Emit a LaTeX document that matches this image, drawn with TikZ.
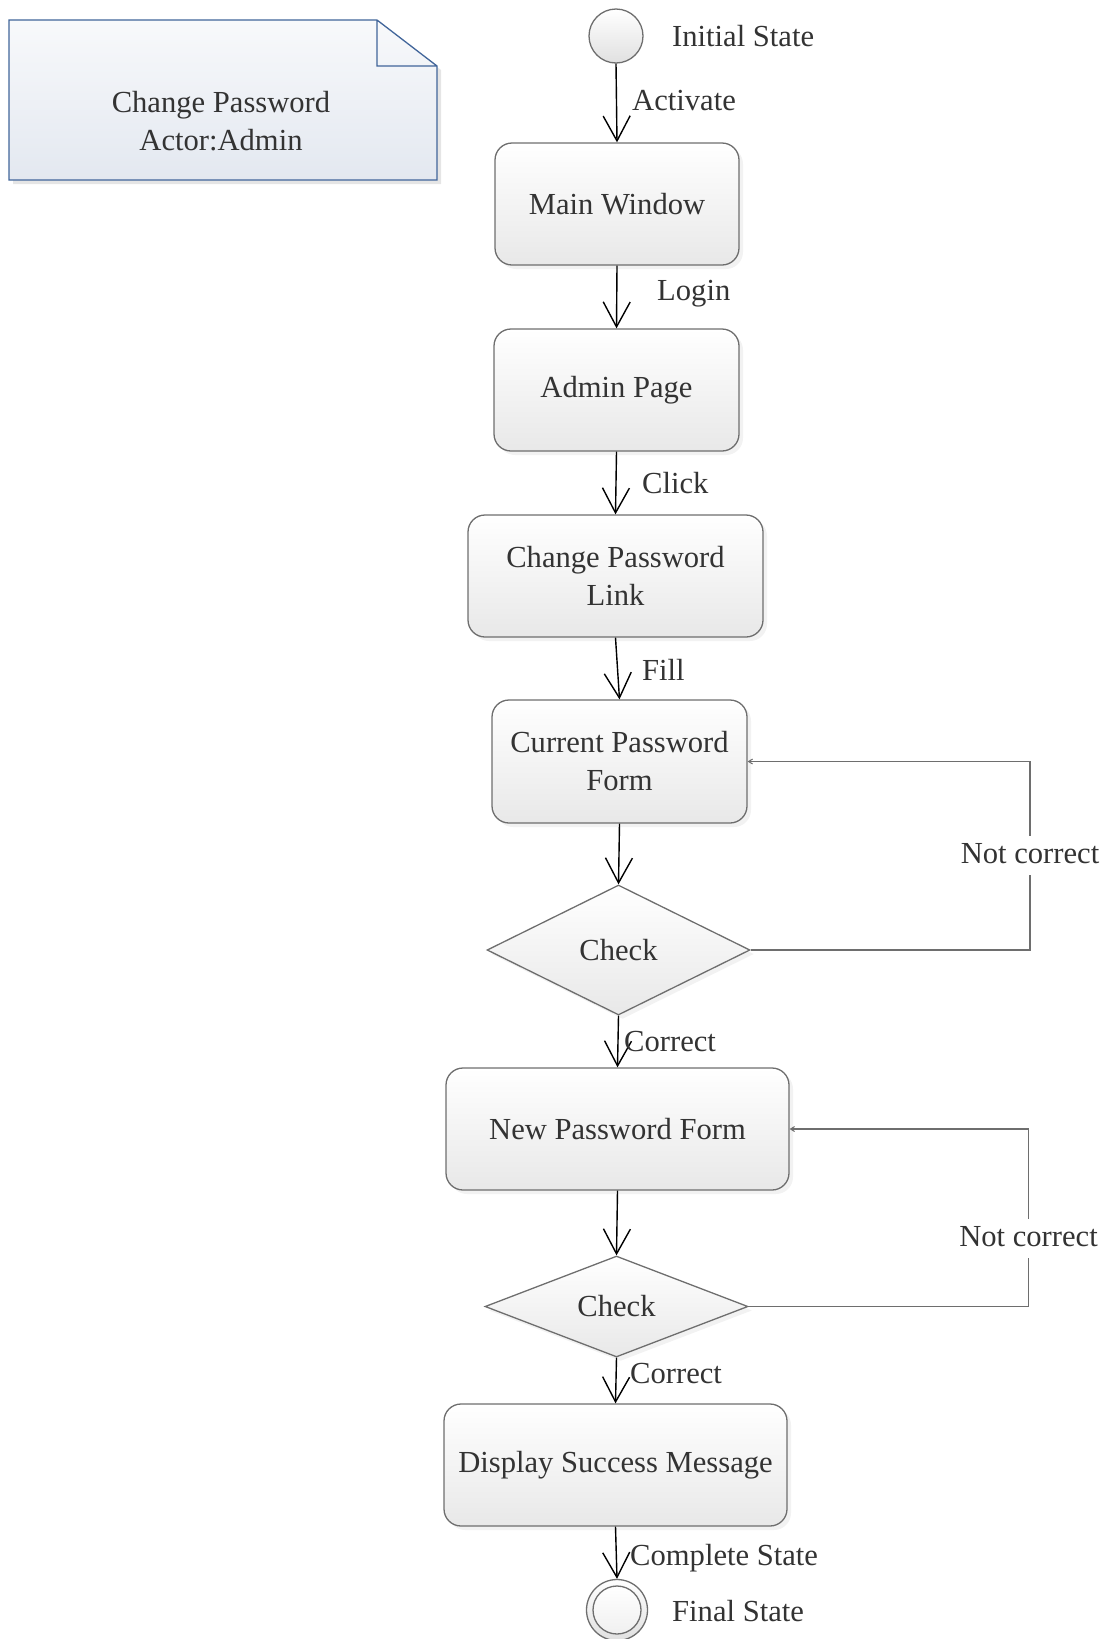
\documentclass[tikz,border=0pt]{standalone}
\usepackage{fontspec}
\setmainfont{Liberation Serif}
\usetikzlibrary{shapes.geometric,arrows.meta,shadows}
\definecolor{txt}{HTML}{333333}
\definecolor{edge}{HTML}{6E6E6E}
\definecolor{notetop}{HTML}{F8F9FB}
\definecolor{notebot}{HTML}{E3E8F0}
\definecolor{noteline}{HTML}{41659A}
\begin{document}
\begin{tikzpicture}[x=1pt,y=-1pt,
  font=\fontsize{30.6}{38}\selectfont, text=txt,
  soft shadow/.style={drop shadow={shadow xshift=4pt, shadow yshift=-4pt, fill=black!10}},
  state/.style={draw=edge, line width=1.3pt, rounded corners=17pt,
    top color=white, bottom color=black!9, align=center, inner sep=0pt,
    soft shadow},
  decision/.style={diamond, draw=edge, line width=1.3pt,
    top color=white, bottom color=black!9, inner sep=0pt, soft shadow},
  pseudo/.style={circle, draw=edge, line width=1.3pt, inner sep=0pt,
    top color=white, bottom color=black!12},
  flow/.style={draw=black, line width=1.4pt,
    -{Straight Barb[length=25pt,width=27pt,line width=1.4pt]}},
  backline/.style={draw=edge, line width=1.3pt},
  backarrow/.style={backline, -{Straight Barb[length=4pt,width=5pt,line width=1pt]}},
  tag/.style={anchor=west, inner sep=0pt, text height=0.66em, text depth=0pt},
  loopnote/.style={fill=white, inner sep=0pt, minimum height=39pt, minimum width=150pt}
]
\useasboundingbox (0,0) rectangle (1110,1639);

% note in the top left corner
\fill[black!10] (13,24) -- (381,24) -- (441,70) -- (441,184) -- (13,184) -- cycle;
\shade[top color=notetop, bottom color=notebot]
  (9,20) -- (377,20) -- (437,66) -- (437,180) -- (9,180) -- cycle;
\draw[noteline, line width=1.3pt, line join=miter]
  (9,20) -- (377,20) -- (437,66) -- (437,180) -- (9,180) -- cycle
  (377,20) -- (377,66) -- (437,66);
\node[align=center] (notetext) at (221,121) {Change Password\\Actor:Admin};

% states
\node[pseudo, minimum size=54pt] (init) at (616,36) {};
\node[state, minimum width=244pt, minimum height=122pt] (main) at (617,204) {Main Window};
\node[state, minimum width=245pt, minimum height=122pt] (admin) at (616.5,390) {Admin Page};
\node[state, minimum width=295pt, minimum height=122pt] (link) at (615.5,576) {Change Password\\Link};
\node[state, minimum width=255pt, minimum height=123pt] (cur) at (619.5,761.5) {Current Password\\Form};
\node[decision, minimum width=263pt, minimum height=130pt] (chk1) at (618.5,950) {Check};
\node[state, minimum width=343pt, minimum height=122pt] (new) at (617.5,1129) {New Password Form};
\node[decision, minimum width=263pt, minimum height=101pt] (chk2) at (616.5,1306.5) {Check};
\node[state, minimum width=343pt, minimum height=122pt] (done) at (615.5,1465) {Display Success Message};
\node[pseudo, minimum size=61pt] (final) at (617,1610) {};
\node[circle, draw=edge, line width=1.3pt, inner sep=0pt, minimum size=48pt,
  top color=white, bottom color=black!6] (finalin) at (final.center) {};

% forward transitions
\draw[flow] (init.south) -- (main.north);
\draw[flow] (main.south) -- (admin.north);
\draw[flow] (admin.south) -- (link.north);
\draw[flow] (link.south) -- (cur.north);
\draw[flow] (cur.south) -- (chk1.north);
\draw[flow] (chk1.south) -- (new.north);
\draw[flow] (new.south) -- (chk2.north);
\draw[flow] (chk2.south) -- (done.north);
\draw[flow] (done.south) -- (final.north);

% retry loops, with their labels set over them on a white ground
\coordinate (r1) at (1030,950);
\coordinate (r2) at (1028.5,1306.5);
\draw[backarrow] (chk1.east) -- (r1) |- (cur.east);
\draw[backarrow] (chk2.east) -- (r2) |- (new.east);
\node[loopnote] (nc1) at (1030,855) {};
\node[loopnote] (nc2) at (1028.5,1238.5) {};
\node[tag, anchor=center] (nc1text) at (1030,860) {Not correct};
\node[tag, anchor=center] (nc2text) at (1028.5,1243.5) {Not correct};

% transition and state labels
\node[tag] (tinit) at (672,43) {Initial State};
\node[tag] (tact) at (632,107) {Activate};
\node[tag] (tlogin) at (657,297) {Login};
\node[tag] (tclick) at (642,490) {Click};
\node[tag] (tfill) at (642,677) {Fill};
\node[tag] (tok1) at (624,1048) {Correct};
\node[tag] (tok2) at (630,1380) {Correct};
\node[tag] (tcomp) at (630,1562) {Complete State};
\node[tag] (tfinal) at (672,1618) {Final State};
\end{tikzpicture}
\end{document}
